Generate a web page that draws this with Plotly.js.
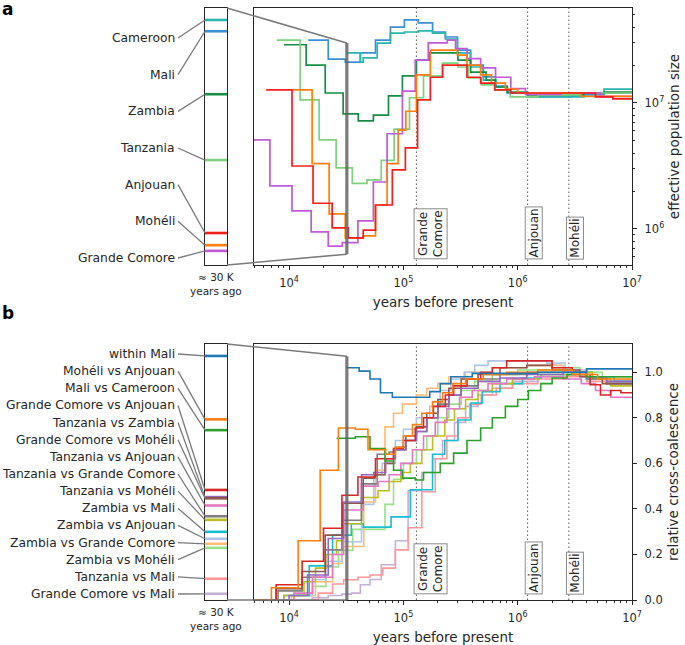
<!DOCTYPE html>
<html>
<head>
<meta charset="utf-8">
<script src="https://cdn.plot.ly/plotly-3.0.1.min.js"></script>
<style>
  body { margin: 0; background: #fff; }
  #plot { width: 685px; height: 645px; }
</style>
</head>
<body>
<div id="plot"></div>
<script>
// ---------------- panel a : effective population size ----------------
// each series: start time of a step (years) and Ne for that step
var popNames  = ['Cameroon', 'Mali', 'Zambia', 'Tanzania', 'Anjouan', 'Mohéli', 'Grande Comore'];
var popColors = ['#2bb5ad', '#3f8fd2', '#178c46', '#7fd17f', '#f2201c', '#ff7f0e', '#c05ad8'];

var tCameroon  = [3.15e4, 4.2e4, 4.45e4, 5.9e4, 7.7e4, 1.02e5, 1.35e5, 1.8e5, 2.33e5, 2.97e5, 3.87e5, 5.0e5, 6.4e5, 8.1e5, 1.22e6, 3.8e6, 5.7e6];
var neCameroon = [2.5e7, 2.11e7, 2.28e7, 2.99e7, 3.59e7, 3.66e7, 3.73e7, 3.59e7, 3.22e7, 2.5e7, 1.93e7, 1.52e7, 1.34e7, 1.2e7, 1.12e7, 1.2e7, 1.29e7];

var tMali  = [1.47e4, 2.2e4, 3.1e4, 4.2e4, 5.7e4, 7.7e4, 1.02e5, 1.35e5, 1.8e5, 2.33e5, 2.97e5, 3.87e5, 5.0e5, 6.4e5, 8.1e5, 1.22e6, 3.0e6, 5.7e6];
var neMali = [3.16e7, 2.23e7, 2.11e7, 2.5e7, 3.16e7, 4.0e7, 4.56e7, 4.32e7, 3.66e7, 3.34e7, 2.63e7, 2.0e7, 1.61e7, 1.36e7, 1.2e7, 1.12e7, 1.16e7, 1.2e7];

var tZambia  = [9e3, 1.41e4, 2.07e4, 2.97e4, 4.03e4, 5.46e4, 7.4e4, 9.8e4, 1.3e5, 1.69e5, 3.0e5, 3.87e5, 5.3e5, 6.4e5, 8.1e5, 1.22e6, 3.8e6, 5.7e6];
var neZambia = [2.9e7, 2.0e7, 1.2e7, 8.2e6, 7.2e6, 8.0e6, 1.14e7, 1.64e7, 2.19e7, 2.5e7, 2.19e7, 1.76e7, 1.52e7, 1.34e7, 1.22e7, 1.16e7, 1.2e7, 1.22e7];

var tTanzania  = [7.8e3, 1.25e4, 1.83e4, 2.58e4, 3.57e4, 4.8e4, 6.4e4, 8.3e4, 1.13e5, 1.5e5, 2.2e5, 3.0e5, 3.7e5, 4.8e5, 6.3e5, 8.6e5, 1.5e6, 3.57e6];
var neTanzania = [3.16e7, 1.06e7, 5.1e6, 3.05e6, 2.3e6, 2.45e6, 3.5e6, 6.2e6, 1.1e7, 1.64e7, 2.07e7, 1.93e7, 1.58e7, 1.39e7, 1.27e7, 1.12e7, 1.16e7, 1.2e7];

var tAnjouan  = [6.3e3, 1.06e4, 1.62e4, 2.38e4, 3.3e4, 4.45e4, 5.7e4, 8.0e4, 1.04e5, 1.33e5, 1.72e5, 2.2e5, 3.6e5, 4.74e5, 6.3e5, 8.7e5, 4.8e6, 6.8e6];
var neAnjouan = [1.27e7, 3.16e6, 1.6e6, 1.02e6, 8.5e5, 9.8e5, 1.55e6, 2.94e6, 4.4e6, 1.06e7, 1.6e7, 2.0e7, 1.6e7, 1.44e7, 1.27e7, 1.2e7, 1.12e7, 1.08e7];

var tMoheli  = [1.08e4, 1.59e4, 2.24e4, 3.1e4, 4.45e4, 5.7e4, 7.2e4, 9.0e4, 1.05e5, 1.3e5, 1.72e5, 2.97e5, 3.6e5, 4.74e5, 5.9e5, 7.8e5, 1.0e6, 3.6e6];
var neMoheli = [1.27e7, 3.3e6, 1.32e6, 8.5e5, 8.8e5, 1.55e6, 3.3e6, 6.1e6, 8.6e6, 1.67e7, 2.63e7, 2.4e7, 2.0e7, 1.67e7, 1.44e7, 1.29e7, 1.2e7, 1.13e7];

var tGrandeComore  = [4.0e3, 6.8e3, 1.06e4, 1.56e4, 2.2e4, 2.92e4, 4.0e4, 5.46e4, 7.2e4, 9.8e4, 1.27e5, 1.65e5, 2.42e5, 2.86e5, 3.6e5, 4.74e5, 6.4e5, 8.7e5, 1.17e6, 2.4e6, 5.3e6];
var neGrandeComore = [5.1e6, 2.2e6, 1.39e6, 9.5e5, 7.3e5, 7.8e5, 1.16e6, 2.36e6, 5.7e6, 1.24e7, 2.19e7, 3.0e7, 3.16e7, 2.7e7, 2.25e7, 1.9e7, 1.6e7, 1.3e7, 1.17e7, 1.2e7, 1.13e7];

var popT  = [tCameroon, tMali, tZambia, tTanzania, tAnjouan, tMoheli, tGrandeComore];
var popNe = [neCameroon, neMali, neZambia, neTanzania, neAnjouan, neMoheli, neGrandeComore];
var popDrawOrder = [1, 0, 2, 3, 6, 5, 4];

// ---------------- panel b : relative cross-coalescence ----------------
var pairNames = ['within Mali', 'Mohéli vs Anjouan', 'Mali vs Cameroon', 'Grande Comore vs Anjouan',
  'Tanzania vs Zambia', 'Grande Comore vs Mohéli', 'Tanzania vs Anjouan', 'Tanzania vs Grande Comore',
  'Tanzania vs Mohéli', 'Zambia vs Mali', 'Zambia vs Anjouan', 'Zambia vs Grande Comore',
  'Zambia vs Mohéli', 'Tanzania vs Mali', 'Grande Comore vs Mali'];
var pairColors = ['#1f77b4', '#ff7f0e', '#2ca02c', '#d62728', '#9467bd', '#8c564b', '#e377c2', '#7f7f7f',
  '#bcbd22', '#17becf', '#aec7e8', '#ffbb78', '#98df8a', '#ff9896', '#c5b0d5'];

var tWithinMali = [3.15e4, 4.1e4, 5.1e4, 6.3e4, 8.0e4, 1.7e5, 2.1e5, 2.6e5, 4.0e5, 1.5e6, 4.0e6];
var rWithinMali = [1.02, 1.005, 0.97, 0.91, 0.89, 0.915, 0.95, 0.98, 0.995, 1.0, 1.015];

var tMoheliAnjouan = [4e3, 7.0e3, 1.2e4, 1.87e4, 2.7e4, 3.8e4, 4.9e4, 7.0e4, 8.5e4, 1.0e5, 1.2e5, 1.45e5, 1.8e5, 2.2e5, 2.7e5, 3.5e5, 5.0e5, 8.0e5, 1.5e6, 3.0e6, 5.0e6];
var rMoheliAnjouan = [0, 0.054, 0.26, 0.57, 0.755, 0.75, 0.66, 0.64, 0.67, 0.72, 0.77, 0.82, 0.87, 0.91, 0.95, 0.97, 0.99, 1.0, 1.01, 0.99, 0.97];

var tMaliCameroon = [2.6e4, 3.8e4, 5.1e4, 6.9e4, 8.2e4, 9.8e4, 1.27e5, 1.5e5, 2.1e5, 2.75e5, 3.6e5, 4.74e5, 6.0e5, 7.8e5, 1.0e6, 1.24e6, 1.59e6, 2.0e6, 2.7e6, 4.0e6];
var rMaliCameroon = [0.71, 0.717, 0.665, 0.61, 0.57, 0.535, 0.527, 0.56, 0.6, 0.645, 0.70, 0.755, 0.80, 0.85, 0.88, 0.92, 0.95, 0.975, 0.99, 0.98];

var tGcAnjouan = [4e3, 7.7e3, 1.3e4, 2.0e4, 2.9e4, 4.0e4, 5.7e4, 8.2e4, 1.0e5, 1.27e5, 1.5e5, 1.83e5, 2.33e5, 2.75e5, 3.6e5, 4.74e5, 6.0e5, 8.0e5, 2.0e6, 3.0e6, 4.3e6, 5.3e6, 6.5e6, 8e6];
var rGcAnjouan = [0, 0.067, 0.17, 0.315, 0.46, 0.54, 0.62, 0.665, 0.70, 0.755, 0.80, 0.85, 0.90, 0.94, 0.97, 1.0, 1.02, 1.05, 1.02, 0.99, 0.945, 0.90, 0.92, 0.91];

var tTzZambia = [4e3, 1.0e4, 1.45e4, 2.2e4, 3.0e4, 4.3e4, 5.5e4, 7.0e4, 8.5e4, 1.05e5, 1.3e5, 1.6e5, 2.0e5, 2.5e5, 3.2e5, 4.5e5, 7.0e5, 1.2e6, 2.5e6, 4.0e6, 6.0e6];
var rTzZambia = [0, 0.02, 0.11, 0.27, 0.43, 0.55, 0.56, 0.62, 0.66, 0.70, 0.74, 0.80, 0.85, 0.90, 0.93, 0.96, 0.975, 0.99, 1.0, 0.98, 0.96];

var tGcMoheli = [4e3, 7.7e3, 1.3e4, 2.07e4, 2.92e4, 4.45e4, 5.6e4, 6.9e4, 8.2e4, 1.05e5, 1.3e5, 1.6e5, 2.0e5, 2.5e5, 3.2e5, 4.5e5, 7.0e5, 1.2e6, 2.0e6, 3.5e6, 5.5e6];
var rGcMoheli = [0, 0.05, 0.125, 0.285, 0.425, 0.535, 0.55, 0.6, 0.66, 0.72, 0.76, 0.82, 0.88, 0.93, 0.97, 0.99, 1.02, 1.03, 1.01, 0.98, 0.95];

var tTzAnjouan = [4e3, 1.1e4, 1.6e4, 2.4e4, 3.0e4, 4.45e4, 6.0e4, 7.5e4, 9.5e4, 1.2e5, 1.5e5, 1.9e5, 2.4e5, 3.1e5, 4.0e5, 5.5e5, 8.0e5, 1.4e6, 2.5e6, 3.6e6, 4.8e6, 6.5e6];
var rTzAnjouan = [0, 0.03, 0.1, 0.2, 0.395, 0.5, 0.52, 0.55, 0.6, 0.66, 0.72, 0.78, 0.84, 0.89, 0.92, 0.95, 0.97, 0.98, 0.97, 0.95, 0.92, 0.89];

var tTzGc = [4e3, 8e3, 1.3e4, 2.07e4, 2.9e4, 4.3e4, 5.9e4, 7.5e4, 8.5e4, 1.05e5, 1.3e5, 1.6e5, 2.0e5, 2.5e5, 3.2e5, 4.5e5, 7.0e5, 1.2e6, 2.5e6, 4.0e6, 6.0e6];
var rTzGc = [0, 0.04, 0.1, 0.22, 0.35, 0.51, 0.64, 0.65, 0.67, 0.70, 0.74, 0.80, 0.86, 0.90, 0.94, 0.97, 0.99, 1.0, 1.0, 0.97, 0.95];

var tTzMoheli = [4e3, 9e3, 1.35e4, 1.7e4, 2.1e4, 2.6e4, 2.9e4, 4.3e4, 6.0e4, 7.5e4, 9.5e4, 1.15e5, 1.45e5, 1.8e5, 2.3e5, 2.8e5, 3.5e5, 4.5e5, 6.0e5, 9.0e5, 1.5e6, 3.0e6, 4.5e6, 6.5e6];
var rTzMoheli = [0, 0.02, 0.08, 0.14, 0.2, 0.26, 0.335, 0.45, 0.48, 0.52, 0.56, 0.6, 0.66, 0.72, 0.79, 0.84, 0.88, 0.92, 0.95, 0.97, 0.99, 1.0, 0.97, 0.94];

var tZambiaMali = [4e3, 9e3, 1.5e4, 2.4e4, 3.5e4, 4.45e4, 7.8e4, 1.15e5, 1.8e5, 2.3e5, 3.0e5, 3.9e5, 4.9e5, 7.0e5, 1.1e6, 1.6e6, 3.0e6, 4.5e6, 7.0e6];
var rZambiaMali = [0, 0.02, 0.15, 0.285, 0.335, 0.32, 0.365, 0.484, 0.64, 0.7, 0.79, 0.865, 0.915, 0.95, 0.975, 0.99, 1.0, 0.98, 0.96];

var tZambiaAnjouan = [4e3, 1.1e4, 1.6e4, 2.1e4, 2.9e4, 4.3e4, 5.5e4, 6.5e4, 8.5e4, 1.0e5, 1.3e5, 1.7e5, 2.1e5, 2.6e5, 3.4e5, 4.2e5, 5.5e5, 1.8e6, 2.6e6, 4.0e6, 6.0e6];
var rZambiaAnjouan = [0, 0.02, 0.09, 0.17, 0.256, 0.42, 0.55, 0.6, 0.7, 0.75, 0.8, 0.85, 0.92, 0.97, 1.0, 1.03, 1.05, 1.04, 1.01, 0.97, 0.95];

var tZambiaGc = [4e3, 1.05e4, 1.7e4, 2.4e4, 2.9e4, 4.5e4, 5.7e4, 6.9e4, 8.2e4, 9.8e4, 1.3e5, 1.6e5, 2.0e5, 2.5e5, 3.5e5, 6.0e5, 1.2e6, 2.5e6, 4.0e6, 6.0e6];
var rZambiaGc = [0, 0.02, 0.08, 0.16, 0.235, 0.43, 0.57, 0.76, 0.82, 0.86, 0.9, 0.93, 0.95, 0.98, 1.0, 1.02, 1.03, 1.01, 0.98, 0.96];

var tZambiaMoheli = [4e3, 1.1e4, 1.6e4, 2.1e4, 2.7e4, 3.6e4, 5.5e4, 6.9e4, 8.2e4, 1.0e5, 1.3e5, 1.6e5, 2.0e5, 2.5e5, 3.2e5, 4.2e5, 6.0e5, 1.0e6, 2.0e6, 3.5e6, 5.5e6];
var rZambiaMoheli = [0, 0.02, 0.06, 0.145, 0.218, 0.31, 0.31, 0.42, 0.53, 0.6, 0.66, 0.72, 0.8, 0.86, 0.92, 0.96, 0.99, 1.01, 1.02, 1.0, 0.98];

var tTzMali = [4e3, 1.8e4, 2.4e4, 3.0e4, 4.0e4, 5.1e4, 6.6e4, 8.5e4, 1.1e5, 1.45e5, 1.9e5, 2.4e5, 3.0e5, 3.8e5, 4.8e5, 6.5e5, 9.0e5, 1.5e6, 2.5e6, 4.0e6, 6.0e6];
var rTzMali = [0, 0.03, 0.07, 0.089, 0.1, 0.11, 0.14, 0.22, 0.317, 0.475, 0.62, 0.72, 0.8, 0.86, 0.9, 0.93, 0.95, 0.97, 0.98, 0.96, 0.95];

var tGcMali = [4e3, 1.6e4, 2.2e4, 2.9e4, 3.5e4, 4.2e4, 5.1e4, 6.4e4, 8.5e4, 1.1e5, 1.45e5, 1.8e5, 2.2e5, 2.8e5, 3.5e5, 4.5e5, 6.0e5, 9.0e5, 1.5e6, 2.5e6, 4.0e6, 6.0e6];
var rGcMali = [0, 0.01, 0.02, 0.026, 0.03, 0.067, 0.09, 0.155, 0.26, 0.48, 0.56, 0.62, 0.7, 0.78, 0.85, 0.9, 0.93, 0.96, 0.98, 0.99, 0.97, 0.95];

var pairT = [tWithinMali, tMoheliAnjouan, tMaliCameroon, tGcAnjouan, tTzZambia, tGcMoheli, tTzAnjouan, tTzGc,
  tTzMoheli, tZambiaMali, tZambiaAnjouan, tZambiaGc, tZambiaMoheli, tTzMali, tGcMali];
var pairR = [rWithinMali, rMoheliAnjouan, rMaliCameroon, rGcAnjouan, rTzZambia, rGcMoheli, rTzAnjouan, rTzGc,
  rTzMoheli, rZambiaMali, rZambiaAnjouan, rZambiaGc, rZambiaMoheli, rTzMali, rGcMali];

// island colonisation events (dotted lines)
var eventNames = ['Grande<br>Comore', 'Anjouan', 'Mohéli'];
var eventYears = [1.3e5, 1.22e6, 2.8e6];

var T0 = 32000;   // "≈ 30 K years ago" snapshot shown in the insets

// ---------------- layout geometry ----------------
var W = 685, H = 645;
function px(x) { return x / W; }
function py(y) { return 1 - y / H; }

var mainX  = [px(254), px(632)];
var insetX = [px(205), px(227)];
var aY = [py(265), py(8)];
var bY = [py(600), py(344)];
var xLog = [Math.log10(4930), 7];
var aLog = [5.714, 7.754];
var bLin = [0, 1.124];
var aInset = [5.80, 7.476];
var bInset = [0, 1.07];

function stepAt(t, v, x) {
  var r = null;
  for (var i = 0; i < t.length; i++) { if (t[i] <= x) r = v[i]; }
  return r;
}
function lerp(dom, frac) { return dom[0] + frac * (dom[1] - dom[0]); }
var T0x = lerp(mainX, (Math.log10(T0) - xLog[0]) / (xLog[1] - xLog[0]));

var ink = '#262626';
var labelSize = 12.3;
var data = [];

popDrawOrder.forEach(function (i) {
  var t = popT[i], v = popNe[i];
  data.push({
    x: t.concat([1.3e7]), y: v.concat([v[v.length - 1]]),
    xaxis: 'x', yaxis: 'y', mode: 'lines', hoverinfo: 'skip',
    line: {shape: 'hv', color: popColors[i], width: 1.7}
  });
});
for (var j = pairT.length - 1; j >= 0; j--) {
  var t = pairT[j], v = pairR[j];
  data.push({
    x: t.concat([1.3e7]), y: v.concat([v[v.length - 1]]),
    xaxis: 'x3', yaxis: 'y3', mode: 'lines', hoverinfo: 'skip',
    line: {shape: 'hv', color: pairColors[j], width: 1.6}
  });
}

var shapes = [], annotations = [];
var grey = '#7a7a7a';

// inset a : Ne at T0
popNames.forEach(function (n, i) {
  var v = stepAt(popT[i], popNe[i], T0);
  data.push({x: [0, 1], y: [v, v], xaxis: 'x2', yaxis: 'y2', mode: 'lines', hoverinfo: 'skip',
    line: {color: popColors[i], width: 2.6}});
  var yIn = lerp(aY, (Math.log10(v) - aInset[0]) / (aInset[1] - aInset[0]));
  var yLab = py(38 + i * 220 / 6);
  annotations.push({text: n, x: px(177), y: yLab, xref: 'paper', yref: 'paper',
    xanchor: 'right', yanchor: 'middle', showarrow: false, font: {size: labelSize, color: ink}});
  shapes.push({type: 'line', xref: 'paper', yref: 'paper', x0: px(178), y0: yLab, x1: insetX[0], y1: yIn,
    line: {color: grey, width: 1.3}});
});

// inset b : relative cross-coalescence at T0
pairNames.forEach(function (n, i) {
  var v = stepAt(pairT[i], pairR[i], T0);
  data.push({x: [0, 1], y: [v, v], xaxis: 'x4', yaxis: 'y4', mode: 'lines', hoverinfo: 'skip',
    line: {color: pairColors[i], width: 2.6}});
  var yIn = lerp(bY, (v - bInset[0]) / (bInset[1] - bInset[0]));
  var yLab = py(354 + i * 240 / 14);
  annotations.push({text: n, x: px(177), y: yLab, xref: 'paper', yref: 'paper',
    xanchor: 'right', yanchor: 'middle', showarrow: false, font: {size: labelSize, color: ink}});
  shapes.push({type: 'line', xref: 'paper', yref: 'paper', x0: px(178), y0: yLab, x1: insetX[0], y1: yIn,
    line: {color: grey, width: 1.3}});
});

// zoom trapezoids and T0 bars
var aTopY = lerp(aY, (aInset[1] - aLog[0]) / (aLog[1] - aLog[0]));
var aBotY = lerp(aY, (aInset[0] - aLog[0]) / (aLog[1] - aLog[0]));
var bTopY = lerp(bY, (bInset[1] - bLin[0]) / (bLin[1] - bLin[0]));
var bBotY = lerp(bY, (bInset[0] - bLin[0]) / (bLin[1] - bLin[0]));
shapes.push({type: 'line', xref: 'paper', yref: 'paper', x0: insetX[1], y0: aY[1], x1: T0x, y1: aTopY, line: {color: grey, width: 1.5}});
shapes.push({type: 'line', xref: 'paper', yref: 'paper', x0: insetX[1], y0: aY[0], x1: T0x, y1: aBotY, line: {color: grey, width: 1.5}});
shapes.push({type: 'line', xref: 'paper', yref: 'paper', x0: insetX[1], y0: bY[1], x1: T0x, y1: bTopY, line: {color: grey, width: 1.5}});
shapes.push({type: 'line', xref: 'paper', yref: 'paper', x0: insetX[1], y0: bY[0], x1: T0x, y1: bBotY, line: {color: grey, width: 1.5}});
shapes.push({type: 'line', xref: 'paper', yref: 'paper', x0: T0x, y0: aBotY, x1: T0x, y1: aTopY, line: {color: 'rgba(100,100,100,0.85)', width: 3.2}});
shapes.push({type: 'line', xref: 'paper', yref: 'paper', x0: T0x, y0: bBotY, x1: T0x, y1: bTopY, line: {color: 'rgba(100,100,100,0.85)', width: 3.2}});

// event lines and labels
[['x', 'y'], ['x3', 'y3']].forEach(function (ax) {
  eventYears.forEach(function (yr, k) {
    shapes.push({type: 'line', xref: ax[0], yref: ax[1] + ' domain', x0: yr, x1: yr, y0: 0, y1: 1,
      line: {color: '#6a6a6a', width: 1.1, dash: '1.5px,2.5px'}, layer: 'below'});
    annotations.push({text: eventNames[k], x: Math.log10(yr), y: 0.022, xref: ax[0], yref: ax[1] + ' domain',
      xanchor: 'left', yanchor: 'bottom', xshift: -3, textangle: -90, showarrow: false,
      font: {size: 12, color: ink}, bordercolor: '#8a8a8a', borderwidth: 1, borderpad: 1,
      bgcolor: 'rgba(255,255,255,0.85)'});
  });
});

// panel letters and inset captions
annotations.push({text: '<b>a</b>', x: 0, y: py(-3), xref: 'paper', yref: 'paper', xanchor: 'left', yanchor: 'top', showarrow: false, font: {size: 17, color: '#000'}});
annotations.push({text: '<b>b</b>', x: 0, y: py(301), xref: 'paper', yref: 'paper', xanchor: 'left', yanchor: 'top', showarrow: false, font: {size: 17, color: '#000'}});
annotations.push({text: '≈ 30 K<br>years ago', x: lerp(insetX, 0.5), y: py(269), xref: 'paper', yref: 'paper', xanchor: 'center', yanchor: 'top', showarrow: false, font: {size: 10.5, color: ink}});
annotations.push({text: '≈ 30 K<br>years ago', x: lerp(insetX, 0.5), y: py(604), xref: 'paper', yref: 'paper', xanchor: 'center', yanchor: 'top', showarrow: false, font: {size: 10.5, color: ink}});

// tick helpers
var minorX = [], minorYa = [];
[5, 6, 7, 8, 9].forEach(function (m) { minorX.push(m * 1e3); });
[1e4, 1e5, 1e6].forEach(function (d) { for (var m = 2; m <= 9; m++) minorX.push(m * d); });
[6, 7, 8, 9].forEach(function (m) { minorYa.push(m * 1e5); });
for (var m = 2; m <= 9; m++) minorYa.push(m * 1e6);
for (var m = 2; m <= 5; m++) minorYa.push(m * 1e7);

function xMain(anchor) {
  return {
    domain: mainX, type: 'log', range: xLog, anchor: anchor,
    tickvals: [1e4, 1e5, 1e6, 1e7],
    ticktext: ['10<sup>4</sup>', '10<sup>5</sup>', '10<sup>6</sup>', '10<sup>7</sup>'],
    ticks: 'outside', ticklen: 4, tickcolor: ink, tickfont: {size: 11.5, color: ink}, ticklabelstandoff: 3,
    minor: {tickmode: 'array', tickvals: minorX, ticks: 'outside', ticklen: 2, tickcolor: ink},
    showline: true, mirror: true, linecolor: ink, linewidth: 1.2,
    showgrid: false, zeroline: false,
    title: {text: 'years before present', font: {size: 13.5, color: ink}, standoff: 8}
  };
}
function insetAxis(dom, anchor, type, range) {
  return {domain: dom, anchor: anchor, type: type, range: range, showticklabels: false, ticks: '',
    showline: true, mirror: true, linecolor: ink, linewidth: 1.2, showgrid: false, zeroline: false};
}

var layout = {
  width: W, height: H,
  margin: {l: 0, r: 0, t: 0, b: 0},
  paper_bgcolor: '#fff', plot_bgcolor: 'rgba(0,0,0,0)',
  font: {family: 'DejaVu Sans, sans-serif', color: ink},
  showlegend: false,
  xaxis: xMain('y'),
  yaxis: {
    domain: aY, type: 'log', range: aLog, anchor: 'x', side: 'right',
    tickvals: [1e6, 1e7], ticktext: ['10<sup>6</sup>', '10<sup>7</sup>'],
    ticks: 'outside', ticklen: 4, tickcolor: ink, tickfont: {size: 11.5, color: ink}, ticklabelstandoff: 5,
    minor: {tickmode: 'array', tickvals: minorYa, ticks: 'outside', ticklen: 2, tickcolor: ink},
    showline: true, mirror: true, linecolor: ink, linewidth: 1.2, showgrid: false, zeroline: false,
    title: {text: 'effective population size', font: {size: 13.5, color: ink}, standoff: 6}
  },
  xaxis2: insetAxis(insetX, 'y2', 'linear', [0, 1]),
  yaxis2: insetAxis(aY, 'x2', 'log', aInset),
  xaxis3: xMain('y3'),
  yaxis3: {
    domain: bY, range: bLin, anchor: 'x3', side: 'right',
    tickvals: [0, 0.2, 0.4, 0.6, 0.8, 1.0], ticktext: ['0.0', '0.2', '0.4', '0.6', '0.8', '1.0'],
    ticks: 'outside', ticklen: 4, tickcolor: ink, tickfont: {size: 11.5, color: ink}, ticklabelstandoff: 5,
    showline: true, mirror: true, linecolor: ink, linewidth: 1.2, showgrid: false, zeroline: false,
    title: {text: 'relative cross-coalescence', font: {size: 13.5, color: ink}, standoff: 6}
  },
  xaxis4: insetAxis(insetX, 'y4', 'linear', [0, 1]),
  yaxis4: insetAxis(bY, 'x4', 'linear', bInset),
  shapes: shapes,
  annotations: annotations
};

Plotly.newPlot('plot', data, layout, {displayModeBar: false, staticPlot: true});
</script>
</body>
</html>
